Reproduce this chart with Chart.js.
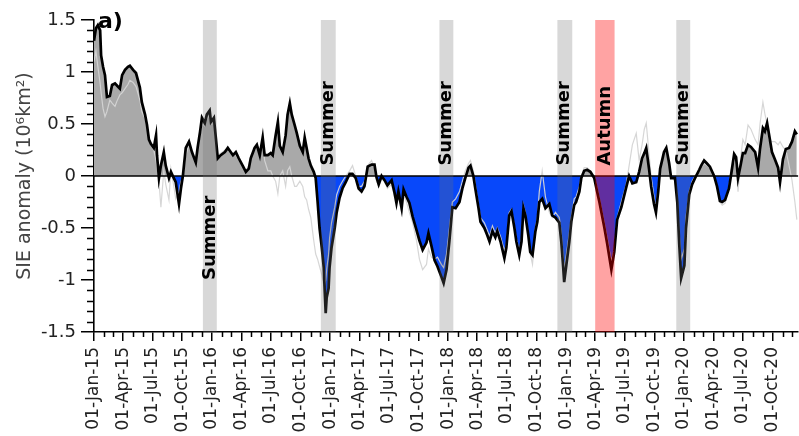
<!DOCTYPE html>
<html><head><meta charset="utf-8">
<script src="https://cdn.jsdelivr.net/npm/chart.js@4.4.1/dist/chart.umd.min.js"></script>
<style>html,body{margin:0;padding:0;background:#fff;overflow:hidden}#wrap{width:799px;height:436px}</style>
</head><body><div id="wrap"><canvas id="c" width="799" height="436"></canvas></div>
<script>
// days since 01-Jan-2015
const days = [0,6,12,19,22,28,34,40,49,56,65,71,80,87,96,105,111,121,130,142,148,158,164,170,176,185,192,195,201,207,216,222,232,238,247,253,263,269,275,284,294,303,315,321,328,334,343,349,358,362,371,377,383,392,405,414,423,430,439,448,460,470,479,485,497,504,513,522,528,538,547,553,562,569,575,584,593,599,606,612,621,627,637,646,652,658,664,671,680,686,692,698,705,711,714,717,720,726,729,735,745,751,760,769,779,791,800,810,819,828,837,847,859,868,874,881,890,899,908,921,930,936,942,952,958,967,976,986,998,1007,1017,1029,1035,1044,1054,1063,1075,1082,1091,1100,1109,1119,1131,1140,1149,1159,1165,1174,1180,1190,1196,1208,1217,1224,1233,1242,1248,1258,1270,1276,1285,1292,1301,1307,1316,1323,1329,1335,1344,1350,1357,1366,1372,1378,1387,1397,1409,1418,1428,1440,1446,1452,1455,1462,1471,1477,1486,1492,1502,1508,1517,1526,1536,1548,1557,1564,1579,1588,1601,1610,1619,1632,1647,1656,1666,1678,1687,1696,1703,1709,1718,1724,1733,1739,1746,1752,1764,1771,1780,1786,1798,1805,1811,1817,1827,1832,1842,1851,1860,1873,1879,1888,1897,1906,1919,1928,1937,1944,1953,1965,1971,1981,1987,1993,2002,2008,2015,2024,2033,2046,2055,2061,2070,2076,2083,2089,2098,2107,2117,2123,2132,2141,2151,2160,2169,2175];
// main SIE anomaly (black line, filled)
const sieMain = [1.30,1.42,1.45,1.40,1.16,1.05,0.97,0.76,0.77,0.875,0.89,0.87,0.84,0.97,1.02,1.05,1.06,1.02,0.99,0.85,0.71,0.59,0.49,0.35,0.31,0.27,0.39,0.20,-0.02,0.10,0.23,0.10,-0.02,0.04,-0.02,-0.06,-0.27,-0.12,0.00,0.27,0.33,0.23,0.13,0.28,0.42,0.56,0.51,0.59,0.63,0.52,0.56,0.37,0.17,0.20,0.23,0.27,0.23,0.20,0.23,0.17,0.10,0.04,0.07,0.17,0.27,0.30,0.20,0.37,0.20,0.20,0.22,0.20,0.39,0.52,0.29,0.23,0.39,0.59,0.70,0.59,0.49,0.42,0.29,0.23,0.37,0.27,0.17,0.10,0.04,-0.02,-0.25,-0.50,-0.69,-0.88,-1.11,-1.32,-1.17,-1.08,-0.88,-0.69,-0.50,-0.35,-0.21,-0.12,-0.06,0.02,0.02,-0.02,-0.12,-0.15,-0.10,0.09,0.11,0.11,-0.01,-0.08,0.00,-0.04,-0.09,-0.04,-0.16,-0.26,-0.15,-0.31,-0.13,-0.20,-0.26,-0.39,-0.52,-0.62,-0.71,-0.64,-0.55,-0.67,-0.81,-0.87,-0.97,-1.03,-0.90,-0.62,-0.30,-0.31,-0.25,-0.12,-0.02,0.08,0.10,0.00,-0.12,-0.31,-0.44,-0.50,-0.57,-0.63,-0.53,-0.59,-0.53,-0.63,-0.79,-0.69,-0.38,-0.34,-0.50,-0.63,-0.76,-0.63,-0.31,-0.38,-0.57,-0.73,-0.76,-0.53,-0.44,-0.25,-0.22,-0.31,-0.27,-0.38,-0.40,-0.45,-0.63,-0.88,-1.02,-0.85,-0.63,-0.44,-0.28,-0.25,-0.15,-0.02,0.05,0.06,0.04,-0.02,-0.15,-0.25,-0.49,-0.65,-0.90,-0.73,-0.42,-0.30,-0.11,0.00,-0.07,-0.06,0.04,0.17,0.22,0.27,0.06,-0.10,-0.27,-0.35,-0.15,0.07,0.23,0.27,0.12,-0.02,-0.02,-0.25,-0.65,-0.98,-0.86,-0.50,-0.18,-0.08,-0.02,0.06,0.10,0.15,0.12,0.09,0.00,-0.10,-0.24,-0.25,-0.23,-0.12,0.00,0.21,0.18,-0.02,0.12,0.22,0.22,0.30,0.28,0.23,0.08,0.26,0.46,0.43,0.51,0.40,0.23,0.16,0.08,-0.06,0.16,0.26,0.27,0.33,0.43,0.40];
// alternative SIE anomaly (thin light line)
const sieAlt = [1.10,1.20,1.05,0.89,0.80,0.65,0.57,0.62,0.73,0.70,0.67,0.72,0.78,0.80,0.84,0.88,0.92,0.90,0.86,0.73,0.62,0.55,0.47,0.38,0.30,0.25,0.15,0.08,-0.04,-0.30,0.05,-0.08,-0.23,0.07,-0.10,-0.22,-0.15,-0.05,-0.02,0.20,0.30,0.25,0.15,0.25,0.38,0.50,0.48,0.55,0.58,0.50,0.50,0.35,0.20,0.22,0.25,0.25,0.22,0.22,0.20,0.15,0.10,0.05,0.10,0.20,0.25,0.30,0.25,0.35,0.15,0.05,0.05,0.00,-0.05,-0.17,0.00,0.05,-0.10,0.05,0.09,0.00,-0.10,-0.10,-0.05,-0.10,-0.20,-0.23,-0.32,-0.40,-0.62,-0.75,-0.80,-0.87,-0.95,-1.05,-1.05,-1.00,-0.90,-0.75,-0.60,-0.45,-0.30,-0.18,-0.10,-0.05,0.00,0.05,0.10,0.00,-0.10,-0.10,-0.05,0.10,0.15,0.08,-0.05,-0.10,-0.03,-0.05,-0.12,-0.08,-0.20,-0.22,-0.18,-0.35,-0.18,-0.25,-0.35,-0.45,-0.62,-0.80,-0.90,-0.85,-0.70,-0.78,-0.80,-0.78,-0.85,-0.88,-0.75,-0.50,-0.25,-0.22,-0.15,-0.05,0.05,0.12,0.15,0.05,-0.08,-0.28,-0.40,-0.45,-0.52,-0.58,-0.48,-0.55,-0.50,-0.58,-0.72,-0.65,-0.35,-0.32,-0.48,-0.60,-0.72,-0.60,-0.28,-0.35,-0.55,-0.75,-0.85,-0.50,-0.40,-0.15,0.05,-0.20,-0.35,-0.40,-0.35,-0.40,-0.55,-0.78,-0.90,-0.75,-0.55,-0.40,-0.22,-0.20,-0.10,0.00,0.08,0.08,0.05,0.00,-0.12,-0.22,-0.45,-0.60,-0.82,-0.70,-0.40,-0.25,-0.08,0.10,0.30,0.41,0.15,0.30,0.45,0.51,0.20,0.00,-0.20,-0.30,-0.10,0.10,0.20,0.25,0.10,0.00,-0.05,-0.20,-0.55,-0.80,-0.70,-0.40,-0.15,-0.05,0.00,0.05,0.08,0.12,0.10,0.08,0.00,-0.10,-0.25,-0.28,-0.26,-0.10,0.05,0.15,0.10,-0.15,0.20,0.35,0.30,0.49,0.45,0.35,0.30,0.50,0.71,0.60,0.50,0.35,0.33,0.33,0.30,0.33,0.28,0.25,0.10,-0.04,-0.25,-0.42];

const tickDays = [0,90,181,273,365,456,547,639,731,821,912,1004,1096,1186,1277,1369,1461,1551,1642,1734,1826,1917,2008,2100];
const tickLabels = ['01-Jan-15','01-Apr-15','01-Jul-15','01-Oct-15','01-Jan-16','01-Apr-16','01-Jul-16','01-Oct-16','01-Jan-17','01-Apr-17','01-Jul-17','01-Oct-17','01-Jan-18','01-Apr-18','01-Jul-18','01-Oct-18','01-Jan-19','01-Apr-19','01-Jul-19','01-Oct-19','01-Jan-20','01-Apr-20','01-Jul-20','01-Oct-20'];
const yTicks = [-1.5,-1,-0.5,0,0.5,1,1.5];

const bandStart = [337,702,1069,1434,1551,1802];
const bandEnd   = [380,748,1112,1480,1611,1845];
const bandLabel = ['Summer','Summer','Summer','Summer','Autumn','Summer'];
const bandLabelValue = [-1.0,0.1,0.1,0.1,0.1,0.1];

Chart.defaults.font.family = '"DejaVu Sans"';

const decor = {
  id: 'decor',
  afterDatasetsDraw(chart) {
    const {ctx, chartArea: a, scales: {x, y}} = chart;
    ctx.save();
    const y0 = y.getPixelForValue(0);
    ctx.strokeStyle = '#000'; ctx.lineWidth = 1.6;
    ctx.beginPath(); ctx.moveTo(a.left, y0); ctx.lineTo(a.right, y0); ctx.stroke();
    for (let i = 0; i < bandStart.length; i++) {
      const x1 = x.getPixelForValue(bandStart[i]), x2 = x.getPixelForValue(bandEnd[i]);
      ctx.fillStyle = bandLabel[i] === 'Autumn' ? 'rgba(255,0,0,0.36)' : 'rgba(110,110,110,0.27)';
      ctx.fillRect(x1, a.top, x2 - x1, a.bottom - a.top);
    }
    ctx.font = 'bold 18px "DejaVu Sans"'; ctx.fillStyle = '#000';
    ctx.textAlign = 'left'; ctx.textBaseline = 'middle';
    for (let i = 0; i < bandStart.length; i++) {
      const xc = (x.getPixelForValue(bandStart[i]) + x.getPixelForValue(bandEnd[i])) / 2;
      ctx.save(); ctx.translate(xc, y.getPixelForValue(bandLabelValue[i])); ctx.rotate(-Math.PI / 2);
      ctx.fillText(bandLabel[i], 0, 0); ctx.restore();
    }
    ctx.restore();
  },
  afterDraw(chart) {
    const {ctx, chartArea: a, scales: {x, y}} = chart;
    ctx.save();
    ctx.strokeStyle = '#000'; ctx.lineWidth = 1.5;
    ctx.beginPath();
    for (let yr = 2015; yr <= 2020; yr++) for (let m = 0; m < 12; m++) {
      if (m % 3 === 0) continue;
      const d = (Date.UTC(yr, m, 1) - Date.UTC(2015, 0, 1)) / 864e5;
      if (d > x.max) continue;
      const px = Math.round(x.getPixelForValue(d)) + 0.5;
      ctx.moveTo(px, a.bottom); ctx.lineTo(px, a.bottom + 5);
    }
    for (let k = -15; k <= 15; k++) {
      if (k % 5 === 0) continue;
      const py = Math.round(y.getPixelForValue(k / 10)) + 0.5;
      ctx.moveTo(a.left - 7, py); ctx.lineTo(a.left, py);
    }
    ctx.stroke();
    ctx.font = 'bold 22px "DejaVu Sans"'; ctx.fillStyle = '#000';
    ctx.textAlign = 'left'; ctx.textBaseline = 'middle';
    ctx.fillText('a)', a.left + 4, a.top + 2);
    ctx.restore();
  }
};

new Chart(document.getElementById('c'), {
  type: 'line',
  data: {
    datasets: [
      {
        data: days.map((d, i) => ({x: d, y: sieMain[i]})),
        borderColor: '#000', borderWidth: 2.7, pointRadius: 0, tension: 0,
        fill: {target: {value: 0}, above: '#a9a9a9', below: 'rgb(8,72,250)'}
      },
      {
        data: days.map((d, i) => ({x: d, y: sieAlt[i]})),
        borderColor: 'rgba(212,212,212,0.95)', borderWidth: 1.2, pointRadius: 0, tension: 0, fill: false
      }
    ]
  },
  options: {
    responsive: false, animation: false, devicePixelRatio: 1,
    layout: {padding: {top: 20, left: 0, right: 0, bottom: 0}},
    plugins: {legend: {display: false}, tooltip: {enabled: false}, filler: {drawTime: 'beforeDatasetsDraw'}},
    scales: {
      x: {
        type: 'linear', min: 0, max: 2179,
        afterBuildTicks: s => { s.ticks = tickDays.map(v => ({value: v})); },
        afterFit: s => { s.height = 104; },
        ticks: {autoSkip: false, maxRotation: 90, minRotation: 90, padding: 6, color: '#222',
          font: {size: 17}, callback: (v, i) => tickLabels[i]},
        grid: {display: true, drawOnChartArea: false, drawTicks: true, tickLength: 9, color: '#000', lineWidth: 1.5},
        border: {display: true, color: '#000', width: 1.6}
      },
      y: {
        min: -1.5, max: 1.5,
        afterBuildTicks: s => { s.ticks = yTicks.map(v => ({value: v})); },
        afterFit: s => { s.width = 94; },
        ticks: {padding: 5, color: '#222', font: {size: 18}, callback: v => String(v)},
        grid: {display: true, drawOnChartArea: false, drawTicks: true, tickLength: 13, color: '#000', lineWidth: 1.5},
        border: {display: true, color: '#000', width: 1.6},
        title: {display: true, text: 'SIE anomaly (10⁶km²)', color: '#444', font: {size: 19}, padding: {top: 14, bottom: 0}}
      }
    }
  },
  plugins: [decor]
});
</script></body></html>
